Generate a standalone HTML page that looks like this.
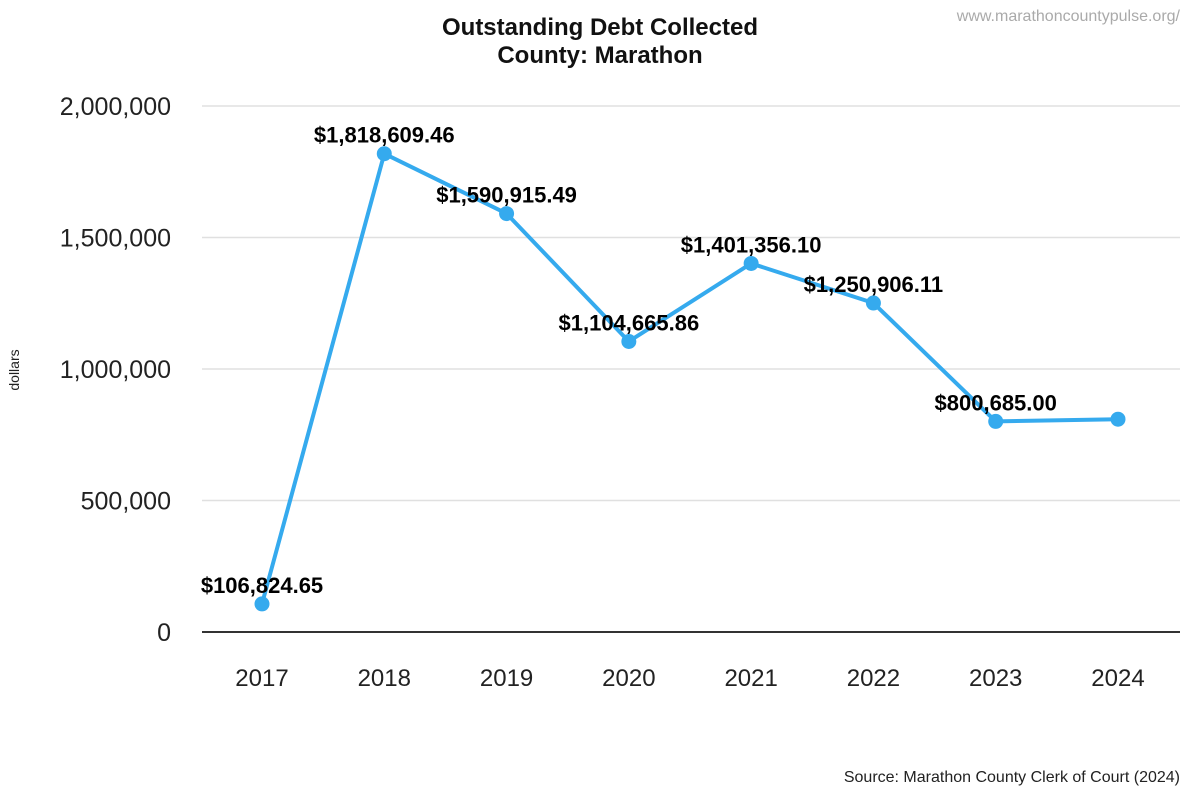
<!DOCTYPE html>
<html><head><meta charset="utf-8"><style>
html,body{margin:0;padding:0;background:#fff;}
svg{display:block;font-family:"Liberation Sans",Arial,sans-serif;}
</style></head><body>
<svg id="chart" width="1200" height="800" viewBox="0 0 1200 800">
<text x="600" y="35" text-anchor="middle" font-size="24" font-weight="bold" fill="#111">Outstanding Debt Collected</text>
<text x="600" y="63" text-anchor="middle" font-size="24" font-weight="bold" fill="#111">County: Marathon</text>
<text x="1180" y="21" text-anchor="end" font-size="16" fill="#aaa">www.marathoncountypulse.org/</text>
<text x="1180" y="782" text-anchor="end" font-size="16" fill="#222">Source: Marathon County Clerk of Court (2024)</text>
<text transform="translate(19,370) rotate(-90)" text-anchor="middle" font-size="14" fill="#222">dollars</text>
<g id="grid"></g><g id="series"></g><g id="labels"></g>
</svg>
<script>
const years=["2017","2018","2019","2020","2021","2022","2023","2024"];
const values=[106824.65,1818609.46,1590915.49,1104665.86,1401356.10,1250906.11,800685.00,809000];
const valueLabels=["$106,824.65","$1,818,609.46","$1,590,915.49","$1,104,665.86","$1,401,356.10","$1,250,906.11","$800,685.00",""];
const yTicks=[0,500000,1000000,1500000,2000000];
const yTickLabels=["0","500,000","1,000,000","1,500,000","2,000,000"];
const NS="http://www.w3.org/2000/svg";
const x0=262,x1=1118,yBase=632,yTop=106,yMax=2000000;
function xs(i){return x0+(x1-x0)*i/(years.length-1);}
function ys(v){return yBase-(yBase-yTop)*v/yMax;}
function mk(t,a,p){const e=document.createElementNS(NS,t);for(const k in a)e.setAttribute(k,a[k]);p.appendChild(e);return e;}
const grid=document.getElementById('grid'),ser=document.getElementById('series'),lab=document.getElementById('labels');
yTicks.forEach((v,i)=>{
  if(v>0){const l=mk('line',{x1:202,x2:1180,y1:ys(v),y2:ys(v),stroke:'#e0e0e0','stroke-width':1.5},grid);
  
  }
  const t=mk('text',{x:171,y:ys(v)+9,'text-anchor':'end','font-size':25,fill:'#222'},grid);
  t.textContent=yTickLabels[i];
  
  
});
const ax=mk('line',{x1:202,x2:1180,y1:yBase,y2:yBase,stroke:'#333','stroke-width':2},grid);


years.forEach((y,i)=>{
  const t=mk('text',{x:xs(i),y:686,'text-anchor':'middle','font-size':24,fill:'#222'},grid);
  t.textContent=y;
  
  
});
const pl=mk('polyline',{points:values.map((v,i)=>xs(i)+','+ys(v)).join(' '),fill:'none',stroke:'#35aaee','stroke-width':4,'stroke-linejoin':'round'},ser);


values.forEach((v,i)=>{
  const c=mk('circle',{cx:xs(i),cy:ys(v),r:7.5,fill:'#35aaee'},ser);
  
  
  if(valueLabels[i]){
    const t=mk('text',{x:xs(i),y:ys(v)-11,'text-anchor':'middle','font-size':22,'font-weight':'bold',fill:'#000'},lab);
    t.textContent=valueLabels[i];
    
    
  }
});
</script>
</body></html>
